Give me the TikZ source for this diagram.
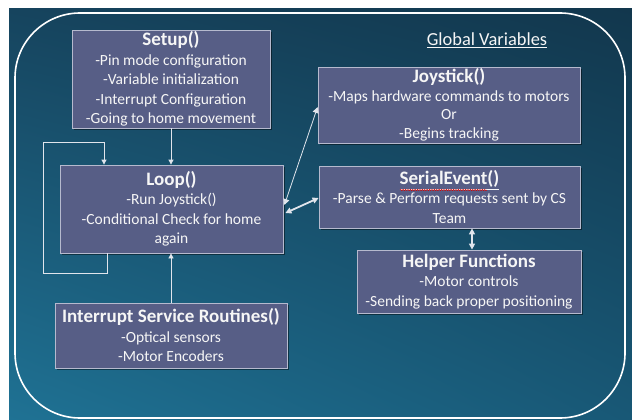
\documentclass[tikz,border=0pt]{standalone}
\usepackage{fontspec}
\setmainfont{Carlito}
\usetikzlibrary{shadows,shadings,arrows.meta,decorations.pathmorphing,calc}

\definecolor{boxfill}{RGB}{87,94,134}
\definecolor{boxline}{RGB}{182,186,206}
\definecolor{bgTL}{RGB}{22,68,94}
\definecolor{bgTR}{RGB}{18,55,77}
\definecolor{bgBL}{RGB}{31,114,148}
\definecolor{bgBR}{RGB}{24,88,118}
\definecolor{txt}{RGB}{246,246,246}
\definecolor{wire}{RGB}{225,229,236}

\newcommand\bodyfont{\fontsize{15.5}{19.5}\selectfont}
\newcommand\ttl{\fontsize{19}{19.5}\selectfont\bfseries}

\tikzset{
  fbox/.style={draw=boxline, line width=0.8pt, fill=boxfill, text=txt,
    align=center, font=\bodyfont, inner sep=0pt,
    drop shadow={shadow xshift=2pt, shadow yshift=-2pt, opacity=0.45, fill=black}},
  wire/.style={draw=wire, line width=0.8pt},
  oneway/.style={wire, -{Triangle[width=5pt,length=5pt]}},
  twoway/.style={wire, {Triangle[width=6pt,length=6pt]}-{Triangle[width=6pt,length=6pt]}},
}

\begin{document}
\begin{tikzpicture}[x=1pt,y=-1pt]
\useasboundingbox (0,0) rectangle (632,420);

% backdrop
\fill[white] (0,0) rectangle (632,420);
\shade[upper left=bgTL, upper right=bgTR, lower left=bgBL, lower right=bgBR]
  (9,9) rectangle (632,420);

% rounded frame
\draw[white, line width=1.6pt, rounded corners=65pt] (15,13) rectangle (625,418);

\node[text=txt, font=\fontsize{18.4}{20}\selectfont] (gv) at (487,40)
  {\underline{Global Variables}};

% function blocks
\node[fbox, minimum width=198pt, minimum height=98pt] (setup) at (171,79)
  {{\ttl Setup()}\\-Pin mode configuration\\-Variable initialization\\
   -Interrupt Configuration\\-Going to home movement};

\node[fbox, minimum width=223pt, minimum height=88pt] (loop) at (171.5,209)
  {{\ttl Loop()}\\-Run Joystick()\\-Conditional Check for home\\again};

\node[fbox, minimum width=232pt, minimum height=65pt] (isr) at (171,335.5)
  {{\ttl Interrupt Service Routines()}\\-Optical sensors\\-Motor Encoders};

\node[fbox, minimum width=262pt, minimum height=76pt,
      font=\fontsize{15.5}{18.5}\selectfont] (joy) at (449,105)
  {{\ttl Joystick()}\\-Maps hardware commands to motors\\Or\\-Begins tracking};

\node[fbox, minimum width=261pt, minimum height=62pt] (serial) at (449.5,197)
  {{\ttl \underline{SerialEvent()}}\\-Parse \& Perform requests sent by CS\\Team};

\node[fbox, minimum width=224pt, minimum height=63pt] (helper) at (469,281.5)
  {{\ttl Helper Functions}\\-Motor controls\\-Sending back proper positioning};

% spell-check squiggle under the SerialEvent title
\draw[red!85!black, line width=0.5pt, decorate,
      decoration={snake, amplitude=0.6pt, segment length=2.4pt}]
  (400,190) -- (487,190);

% connectors
\draw[oneway] (setup.south) -- (setup.south |- loop.north);
\draw[oneway] (isr.north) -- (isr.north |- loop.south);

\coordinate (lpA) at (107,273);
\coordinate (lpB) at (43,273);
\coordinate (lpC) at (43,142);
\coordinate (lpD) at (104,142);
\draw[oneway] (loop.south -| lpA) -- (lpA) -- (lpB) -- (lpC) -- (lpD)
  -- (lpD |- loop.north);

\draw[twoway] ($(loop.east)+(1,-4)$) -- ($(joy.west)+(0,2)$);
\draw[twoway, line width=1.8pt] ($(loop.east)+(2,4)$) -- ($(serial.west)+(0,1)$);
\coordinate (sh) at (472,0);
\draw[twoway, line width=1.8pt] (sh |- serial.south) -- (sh |- helper.north);
\end{tikzpicture}
\end{document}
